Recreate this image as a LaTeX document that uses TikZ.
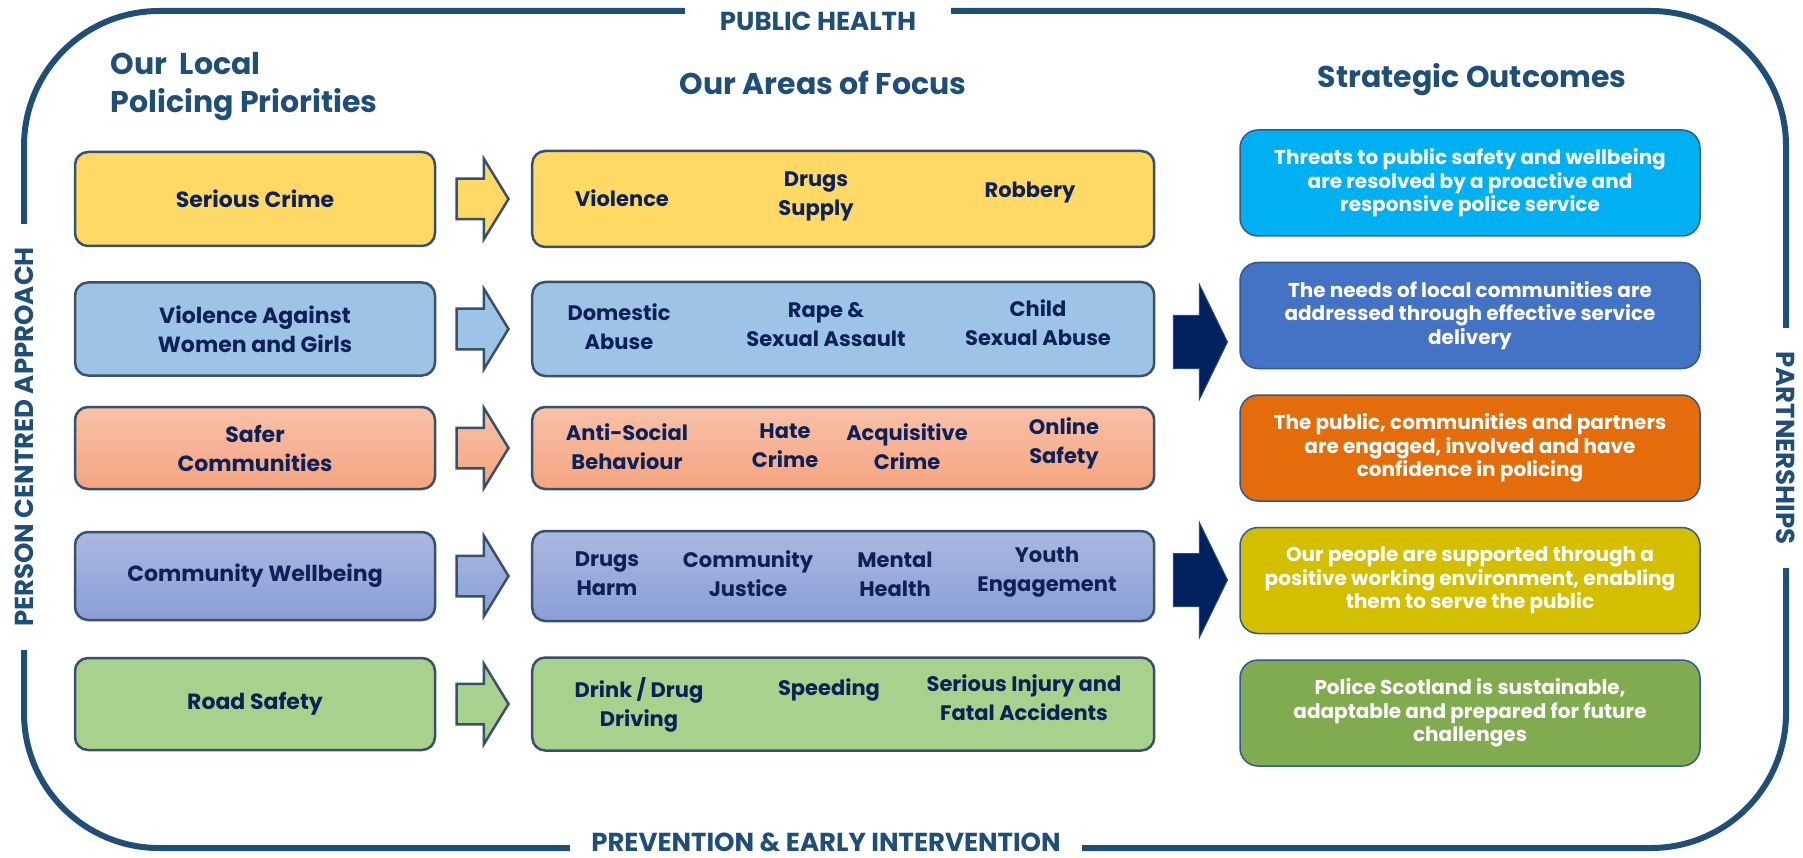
\documentclass[tikz,border=0pt]{standalone}
\usepackage{fontspec}
\setmainfont{Poppins}
\usetikzlibrary{positioning, shapes.arrows}

\definecolor{frameblue}{HTML}{1F4E79}
\definecolor{navytext}{HTML}{0E2157}
\definecolor{boxline}{HTML}{385069}
\definecolor{crimeyellow}{HTML}{FFD966}
\definecolor{vawgblue}{HTML}{9DC3E6}
\definecolor{saferlight}{HTML}{F8C1A9}
\definecolor{saferdark}{HTML}{F4A47F}
\definecolor{wellight}{HTML}{AAB7E0}
\definecolor{weldark}{HTML}{8A9FD7}
\definecolor{roadgreen}{HTML}{A9D18E}
\definecolor{darkarrow}{HTML}{002060}
\definecolor{outcyan}{HTML}{00B0F0}
\definecolor{outblue}{HTML}{4472C4}
\definecolor{outorange}{HTML}{E46C0A}
\definecolor{outolive}{HTML}{D4BE00}
\definecolor{outgreen}{HTML}{80AB4F}
\definecolor{outedge}{HTML}{2F5A8A}

\tikzset{
    strategy/.style={x=1pt, y=-1pt},
    frame/.style={draw=frameblue, line width=6pt, rounded corners=135pt},
    framelabel/.style={fill=white, text=frameblue, font=\fontsize{26}{30}\selectfont\bfseries, inner sep=0pt, minimum height=34pt},
    heading/.style={text=frameblue, font=\fontsize{30}{38}\selectfont\bfseries},
    prio/.style={draw=boxline, line width=2.5pt, rounded corners=13pt, minimum width=360pt, text=navytext, align=center, font=\fontsize{22}{29}\selectfont\bfseries},
    focus/.style={prio, minimum width=622pt},
    item/.style={text=navytext, align=center, font=\fontsize{21}{29}\selectfont\bfseries},
    outcome/.style={draw=outedge, line width=1.5pt, rounded corners=18pt, minimum width=460pt, minimum height=106pt, text=white, align=center, font=\fontsize{20}{23.5}\selectfont\bfseries},
    % the small arrows between the first two columns
    linkarrow/.style={single arrow, draw=boxline, line width=2.5pt, minimum height=52pt, minimum width=78pt, inner xsep=0pt, inner ysep=19pt, single arrow head extend=20pt, single arrow tip angle=117},
    bigarrow/.style={single arrow, fill=darkarrow, draw=frameblue, line width=1pt, minimum height=54pt, minimum width=114pt, inner xsep=0pt, inner ysep=26pt, single arrow head extend=31pt, single arrow tip angle=128},
}

\begin{document}
\begin{tikzpicture}[strategy]
    \useasboundingbox (0,0) rectangle (1803,858);

    % outer frame and its four labels
    \draw[frame] (24,11) rectangle (1786,848);
    \node[framelabel, minimum width=266pt] (ph) at (818,21) {PUBLIC HEALTH};
    \node[framelabel, minimum width=512pt] (pei) at (826,842) {PREVENTION \& EARLY INTERVENTION};
    \node[framelabel, minimum width=426pt, rotate=90] (pca) at (24,437) {PERSON CENTRED APPROACH};
    \node[framelabel, minimum width=240pt, rotate=-90] (pts) at (1786,448) {PARTNERSHIPS};

    % column headings
    \node[heading, anchor=west, align=left] (hprio) at (107,87) {Our\ \ Local\\Policing Priorities};
    \node[heading] (hfocus) at (823,83) {Our Areas of Focus};
    \node[heading] (hout) at (1472,80) {Strategic Outcomes};

    % row 1
    \node[prio, fill=crimeyellow, minimum height=94pt] (p1) at (255,199) {Serious Crime};
    \node[linkarrow, fill=crimeyellow, right=19pt of p1] (a1) {};
    \node[focus, fill=crimeyellow, minimum height=96pt, right=21pt of a1] (f1) {};
    \node[item] (f1a) at (622,198) {Violence};
    \node[item] (f1b) at (816,196) {Drugs\\Supply};
    \node[item] (f1c) at (1030,193) {Robbery};

    % row 2
    \node[prio, fill=vawgblue, minimum height=93pt] (p2) at (255,329) {Violence Against\\Women and Girls};
    \node[linkarrow, fill=vawgblue, right=19pt of p2] (a2) {};
    \node[focus, fill=vawgblue, minimum height=94pt, right=21pt of a2] (f2) {};
    \node[item] (f2a) at (619,327) {Domestic\\Abuse};
    \node[item] (f2b) at (826,325) {Rape \&\\Sexual Assault};
    \node[item] (f2c) at (1038,323) {Child\\Sexual Abuse};

    % row 3
    \node[prio, top color=saferlight, bottom color=saferdark, minimum height=82pt] (p3) at (255,448) {Safer\\Communities};
    \node[linkarrow, top color=saferlight, bottom color=saferdark, right=19pt of p3] (a3) {};
    \node[focus, top color=saferlight, bottom color=saferdark, minimum height=82pt, right=21pt of a3] (f3) {};
    \node[item] (f3a) at (627,447) {Anti-Social\\Behaviour};
    \node[item] (f3b) at (785,446) {Hate\\Crime};
    \node[item] (f3c) at (907,447) {Acquisitive\\Crime};
    \node[item] (f3d) at (1064,443) {Online\\Safety};

    % row 4
    \node[prio, top color=wellight, bottom color=weldark, minimum height=88pt] (p4) at (255,576) {Community Wellbeing};
    \node[linkarrow, top color=wellight, bottom color=weldark, right=19pt of p4] (a4) {};
    \node[focus, top color=wellight, bottom color=weldark, minimum height=90pt, right=21pt of a4] (f4) {};
    \node[item] (f4a) at (607,574) {Drugs\\Harm};
    \node[item] (f4b) at (748,574) {Community\\Justice};
    \node[item] (f4c) at (895,574) {Mental\\Health};
    \node[item] (f4d) at (1047,572) {Youth\\Engagement};

    % row 5
    \node[prio, fill=roadgreen, minimum height=92pt] (p5) at (255,704) {Road Safety};
    \node[linkarrow, fill=roadgreen, right=19pt of p5] (a5) {};
    \node[focus, fill=roadgreen, minimum height=93pt, right=21pt of a5] (f5) {};
    \node[item] (f5a) at (639,705) {Drink / Drug\\Driving};
    \node[item] (f5b) at (829,690) {Speeding};
    \node[item] (f5c) at (1024,698) {Serious Injury and\\Fatal Accidents};

    % arrows into the outcomes
    \node[bigarrow] (b1) at (1194,342) {};
    \node[bigarrow] (b2) at (1194,580) {};

    % strategic outcomes
    \node[outcome, fill=outcyan] (o1) at (1470,183) {Threats to public safety and wellbeing\\are resolved by a proactive and\\responsive police service};
    \node[outcome, fill=outblue, below=25pt of o1] (o2) {The needs of local communities are\\addressed through effective service\\delivery};
    \node[outcome, fill=outorange, below=25pt of o2] (o3) {The public, communities and partners\\are engaged, involved and have\\confidence in policing};
    \node[outcome, fill=outolive, below=25pt of o3] (o4) {Our people are supported through a\\positive working environment, enabling\\them to serve the public};
    \node[outcome, fill=outgreen, below=25pt of o4] (o5) {Police Scotland is sustainable,\\adaptable and prepared for future\\challenges};
\end{tikzpicture}
\end{document}
